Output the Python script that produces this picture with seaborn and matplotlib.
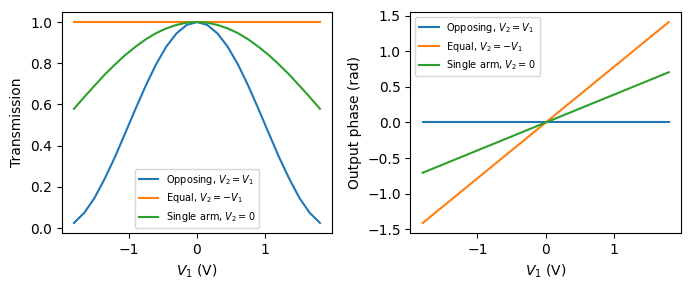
import pandas as pd
import matplotlib
matplotlib.use("Agg")
import matplotlib.pyplot as plt
import seaborn as sns

# 电压 V1 (V)
v1 = [-1.8, -1.65, -1.5, -1.35, -1.2, -1.05, -0.9, -0.75, -0.6, -0.45, -0.3, -0.15, 0.0,
      0.15, 0.3, 0.45, 0.6, 0.75, 0.9, 1.05, 1.2, 1.35, 1.5, 1.65, 1.8]

# 透射率
trans_opposing = [0.025, 0.074, 0.146, 0.240, 0.345, 0.461, 0.578, 0.691, 0.794, 0.880, 0.945, 0.986, 1.0,
                  0.986, 0.945, 0.880, 0.794, 0.691, 0.578, 0.461, 0.345, 0.240, 0.146, 0.074, 0.025]
trans_equal = [1.0] * 25
trans_single = [0.579, 0.636, 0.691, 0.745, 0.794, 0.840, 0.880, 0.916, 0.946, 0.969, 0.986, 0.997, 1.0,
                0.997, 0.986, 0.969, 0.946, 0.916, 0.880, 0.840, 0.794, 0.745, 0.691, 0.636, 0.579]

# 输出相位 (rad)
phase_opposing = [0.0] * 25
phase_equal = [-1.413, -1.295, -1.178, -1.060, -0.942, -0.824, -0.707, -0.589, -0.471, -0.353, -0.236, -0.118, 0.0,
               0.118, 0.236, 0.353, 0.471, 0.589, 0.707, 0.824, 0.942, 1.060, 1.178, 1.295, 1.413]
phase_single = [-0.707, -0.648, -0.589, -0.530, -0.471, -0.412, -0.353, -0.295, -0.236, -0.177, -0.118, -0.059, 0.0,
                0.059, 0.118, 0.177, 0.236, 0.295, 0.353, 0.412, 0.471, 0.530, 0.589, 0.648, 0.707]

labels = [r"Opposing, $V_2 = V_1$", r"Equal, $V_2 = -V_1$", r"Single arm, $V_2 = 0$"]

fig, (ax1, ax2) = plt.subplots(1, 2, figsize=(6.9, 2.9), dpi=100)

for ys, lab in zip([trans_opposing, trans_equal, trans_single], labels):
    sns.lineplot(x=v1, y=ys, ax=ax1, label=lab)
for ys, lab in zip([phase_opposing, phase_equal, phase_single], labels):
    sns.lineplot(x=v1, y=ys, ax=ax2, label=lab)

ax1.set_xlabel(r"$V_1$ (V)")
ax1.set_ylabel("Transmission")
ax1.legend(loc="lower center", fontsize=7)

ax2.set_xlabel(r"$V_1$ (V)")
ax2.set_ylabel("Output phase (rad)")
ax2.legend(loc="upper left", fontsize=7)

plt.subplots_adjust(left=0.0894, right=0.987, top=0.9586, bottom=0.1966, wspace=0.289)
plt.savefig("out.png")
